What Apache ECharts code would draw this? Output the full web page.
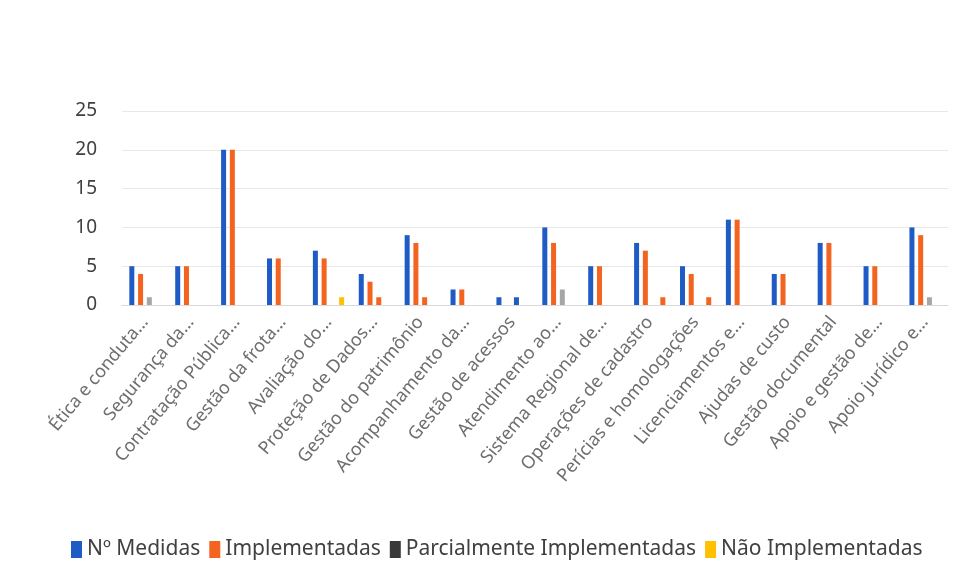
<!DOCTYPE html>
<html>
<head>
<meta charset="utf-8">
<script src="https://cdn.jsdelivr.net/npm/echarts@6/dist/echarts.min.js"></script>
<style>
    html,body{margin:0;padding:0;background:#fff;}
    #chart{width:961px;height:583px;}
</style>
</head>
<body>
<div id="chart"></div>
<script>
// categorias (texto já truncado como no original)
const categorias = [
    'Ética e conduta…', 'Segurança da…', 'Contratação Pública…', 'Gestão da frota…',
    'Avaliação do…', 'Proteção de Dados…', 'Gestão do patrimônio', 'Acompanhamento da…',
    'Gestão de acessos', 'Atendimento ao…', 'Sistema Regional de…', 'Operações de cadastro',
    'Perícias e homologações', 'Licenciamentos e…', 'Ajudas de custo', 'Gestão documental',
    'Apoio e gestão de…', 'Apoio jurídico e…'
];
const medidas        = [5, 5, 20, 6, 7, 4, 9, 2, 1, 10, 5, 8, 5, 11, 4, 8, 5, 10];
const implementadas  = [4, 5, 20, 6, 6, 3, 8, 2, 0, 8, 5, 7, 4, 11, 4, 8, 5, 9];
const parcialmente   = [1, 0, 0, 0, 0, 1, 1, 0, 1, 2, 0, 0, 0, 0, 0, 0, 0, 1];
const naoImplement   = [0, 0, 0, 0, 1, 0, 0, 0, 0, 0, 0, 1, 1, 0, 0, 0, 0, 0];
const ticksY = [0, 5, 10, 15, 20, 25];

const AZUL = '#1f5bc4', LARANJA = '#f4631f', CINZA = '#a6a6a6', AMARELO = '#ffc000';
// cores pontuais como aparecem na imagem
const corParcial = {5: LARANJA, 6: LARANJA, 8: AZUL};
const corNao = {11: LARANJA, 12: LARANJA};

let chart = echarts.init(document.getElementById('chart'));
const fonte = '"Noto Sans", "Open Sans", sans-serif';

function serie(nome, dados, cor, extra){
    return {
        name: nome,
        type: 'bar',
        data: dados.map(v => v === 0 ? null : v),
        barWidth: 5,
        barGap: '75%',
        itemStyle: {color: extra ? (p => extra[p.dataIndex] || cor) : cor}
    };
}

chart.setOption({
    animation: false,
    textStyle: {fontFamily: fonte},
    grid: {left: 122, right: 13, top: 111, height: 194},
    legend: {
        bottom: 18,
        left: 66,
        itemWidth: 11,
        itemHeight: 17,
        itemGap: 9,
        icon: 'rect',
        textStyle: {fontSize: 21, color: '#404040', fontFamily: fonte},
        data: [
            {name: 'Nº Medidas', itemStyle: {color: AZUL}},
            {name: 'Implementadas', itemStyle: {color: LARANJA}},
            {name: 'Parcialmente Implementadas', itemStyle: {color: '#3a3a3a'}},
            {name: 'Não Implementadas', itemStyle: {color: AMARELO}}
        ]
    },
    xAxis: {
        type: 'category',
        data: categorias,
        axisTick: {show: false},
        axisLine: {lineStyle: {color: '#d9d9d9'}},
        axisLabel: {
            interval: 0,
            rotate: 50,
            margin: 14,
            fontSize: 18,
            color: '#6e6e6e'
        }
    },
    yAxis: {
        type: 'value',
        min: ticksY[0],
        max: ticksY[ticksY.length - 1],
        interval: 5,
        axisLabel: {fontSize: 19, color: '#404040', margin: 25},
        splitLine: {lineStyle: {color: '#e8e8e8'}}
    },
    series: [
        serie('Nº Medidas', medidas, AZUL),
        serie('Implementadas', implementadas, LARANJA),
        serie('Parcialmente Implementadas', parcialmente, CINZA, corParcial),
        serie('Não Implementadas', naoImplement, AMARELO, corNao)
    ]
});
</script>
</body>
</html>
